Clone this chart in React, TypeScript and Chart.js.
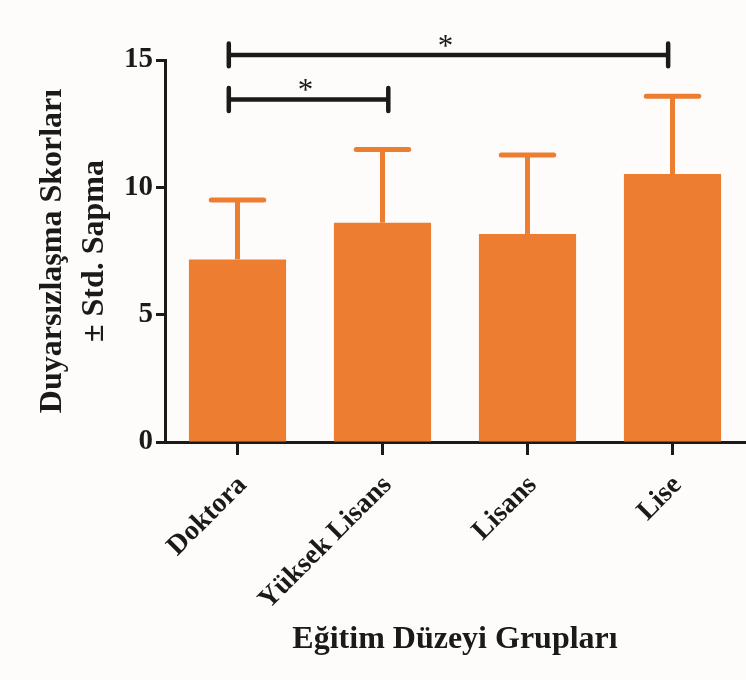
import React, { useEffect, useRef } from "react";
import { Chart, registerables } from "chart.js";

Chart.register(...registerables);

const categories = ["Doktora", "Yüksek Lisans", "Lisans", "Lise"];
const means = [7.17, 8.61, 8.17, 10.52];
const sds = [2.33, 2.88, 3.1, 3.06];
const yTicks = [0, 5, 10, 15];
// significance brackets: [from category, to category, y value, label]
const bracketFrom = [-0.06, -0.06];
const bracketTo = [2.97, 1.04];
const bracketY = [15.2, 13.45];
const bracketLabel = ["*", "*"];

const ORANGE = "#ED7D31";
const FONT = "'Liberation Serif', 'Times New Roman', serif";

const bgPlugin = {
  id: "bg",
  beforeDraw(chart: any) {
    const { ctx, width, height } = chart;
    ctx.save();
    ctx.fillStyle = "#fdfcfa";
    ctx.fillRect(0, 0, width, height);
    ctx.restore();
  },
};

const errorPlugin = {
  id: "errbars",
  afterDatasetsDraw(chart: any) {
    const { ctx } = chart;
    const meta = chart.getDatasetMeta(0);
    const y = chart.scales.y;
    ctx.save();
    ctx.strokeStyle = ORANGE;
    meta.data.forEach((bar: any, i: number) => {
      const top = y.getPixelForValue(means[i] + sds[i]);
      const half = bar.width * 0.27;
      ctx.lineCap = "butt";
      ctx.lineWidth = 5;
      ctx.beginPath();
      ctx.moveTo(bar.x, bar.y);
      ctx.lineTo(bar.x, top);
      ctx.stroke();
      ctx.lineCap = "round";
      ctx.lineWidth = 5;
      ctx.beginPath();
      ctx.moveTo(bar.x - half, top);
      ctx.lineTo(bar.x + half, top);
      ctx.stroke();
    });
    ctx.restore();
  },
};

const bracketPlugin = {
  id: "brackets",
  afterDraw(chart: any) {
    const { ctx } = chart;
    const x = chart.scales.x;
    const y = chart.scales.y;
    const unit = x.getPixelForValue(1) - x.getPixelForValue(0);
    const p0 = x.getPixelForValue(0);
    ctx.save();
    ctx.strokeStyle = "#1a1a1a";
    ctx.fillStyle = "#1a1a1a";
    ctx.lineWidth = 4.5;
    ctx.lineCap = "round";
    bracketY.forEach((v, i) => {
      const x1 = p0 + bracketFrom[i] * unit;
      const x2 = p0 + bracketTo[i] * unit;
      const yy = y.getPixelForValue(v);
      const tickUp = y.getPixelForValue(v + 0.45) - yy;
      const tickDown = y.getPixelForValue(v - 0.45) - yy;
      ctx.beginPath();
      ctx.moveTo(x1, yy);
      ctx.lineTo(x2, yy);
      ctx.moveTo(x1, yy + tickUp);
      ctx.lineTo(x1, yy + tickDown);
      ctx.moveTo(x2, yy + tickUp);
      ctx.lineTo(x2, yy + tickDown);
      ctx.stroke();
      ctx.font = `normal 31px ${FONT}`;
      ctx.textAlign = "center";
      ctx.textBaseline = "alphabetic";
      ctx.fillText(bracketLabel[i], (x1 + x2) / 2 - 3, yy + 1);
    });
    ctx.restore();
  },
};

export default function App() {
  const ref = useRef<HTMLCanvasElement>(null);
  useEffect(() => {
    if (!ref.current) return;
    const chart = new Chart(ref.current, {
      type: "bar",
      data: {
        labels: categories,
        datasets: [
          {
            data: means,
            backgroundColor: ORANGE,
            borderWidth: 0,
            categoryPercentage: 1,
            barPercentage: 0.67,
          },
        ],
      },
      options: {
        responsive: false,
        animation: false,
        layout: { padding: { top: 60, right: 1, bottom: 0, left: 0 } },
        plugins: { legend: { display: false }, tooltip: { enabled: false } },
        scales: {
          x: {
            grid: {
              offset: false,
              drawOnChartArea: false,
              drawTicks: true,
              tickLength: 13,
              tickWidth: 3,
              tickColor: "#1a1a1a",
            },
            border: { display: true, color: "#1a1a1a", width: 3 },
            ticks: {
              autoSkip: false,
              minRotation: 45,
              maxRotation: 45,
              padding: 14,
              labelOffset: 5,
              color: "#1a1a1a",
              font: { family: FONT, size: 28, weight: "bold" },
            },
            title: {
              display: true,
              text: "Eğitim Düzeyi Grupları",
              color: "#1a1a1a",
              font: { family: FONT, size: 32, weight: "bold", lineHeight: 1.2 },
              padding: { top: 0, bottom: 21 },
            },
            afterFit: (s: any) => {
              s.height = 238;
            },
          },
          y: {
            min: 0,
            max: 15,
            afterBuildTicks: (s: any) => {
              s.ticks = yTicks.map((v) => ({ value: v }));
            },
            grid: {
              drawOnChartArea: false,
              drawTicks: true,
              tickLength: 9,
              tickWidth: 3,
              tickColor: "#1a1a1a",
            },
            border: { display: true, color: "#1a1a1a", width: 3 },
            ticks: {
              padding: 3,
              color: "#1a1a1a",
              font: { family: FONT, size: 29, weight: "bold" },
            },
            title: {
              display: true,
              text: ["Duyarsızlaşma Skorları", "± Std. Sapma"],
              color: "#1a1a1a",
              font: { family: FONT, size: 32, weight: "bold", lineHeight: 1.3 },
              padding: { top: 32, bottom: 0 },
            },
            afterFit: (s: any) => {
              s.width = 165;
            },
          },
        },
      },
      plugins: [bgPlugin, errorPlugin, bracketPlugin],
    });
    return () => chart.destroy();
  }, []);
  return (
    <div style={{ position: "fixed", left: 0, top: 0, width: 746, height: 680, background: "#fdfcfa" }}>
      <canvas ref={ref} width={746} height={680} />
    </div>
  );
}
